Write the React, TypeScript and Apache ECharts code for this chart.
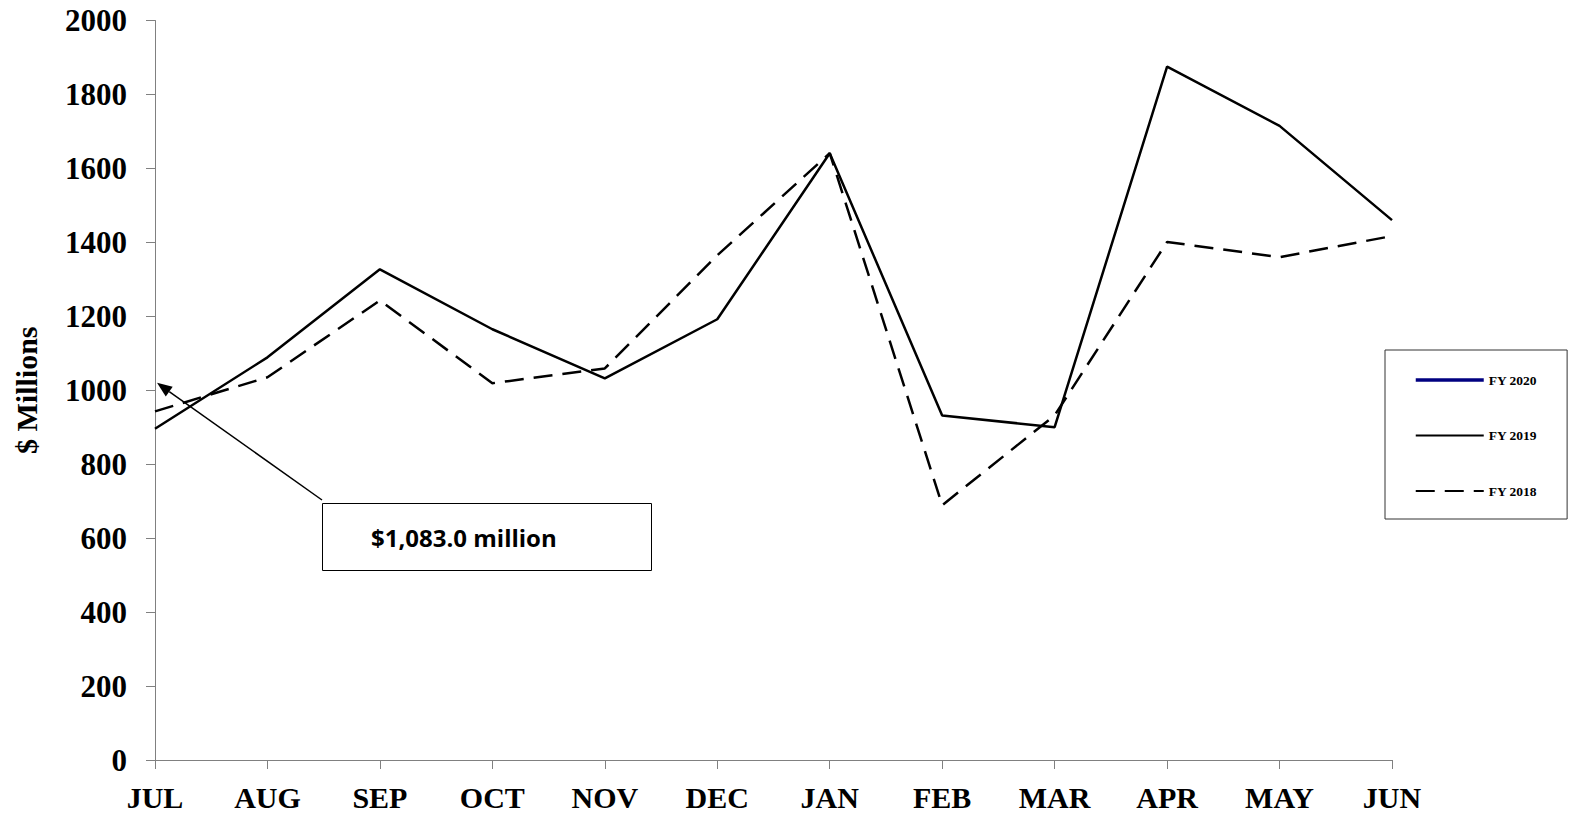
import React, { useEffect, useRef } from "react";
import * as echarts from "echarts";

const months = ["JUL", "AUG", "SEP", "OCT", "NOV", "DEC", "JAN", "FEB", "MAR", "APR", "MAY", "JUN"];
const fy2020: (number | null)[] = [1083, null, null, null, null, null, null, null, null, null, null, null];
const fy2019 = [896, 1089, 1327, 1165, 1032, 1192, 1641, 932, 900, 1875, 1715, 1460];
const fy2018 = [943, 1035, 1243, 1019, 1059, 1365, 1641, 689, 932, 1401, 1360, 1417];
const yTicks = { min: 0, max: 2000, interval: 200 };
const annotationText = "$1,083.0 million";
const arrowTarget: [string, number] = ["JUL", 1020];

const serif = "'Liberation Serif', 'Times New Roman', serif";

export default function App() {
  const ref = useRef<HTMLDivElement>(null);
  useEffect(() => {
    if (!ref.current) return;
    const chart = echarts.init(ref.current, null, { renderer: "svg" });
    const axisColor = "#808080";
    chart.setOption({
      animation: false,
      backgroundColor: "#fff",
      grid: { left: 155, right: 178, top: 20.5, bottom: 57, containLabel: false },
      legend: {
        orient: "vertical",
        left: 1385,
        top: 350,
        padding: [23, 30, 21, 29],
        itemGap: 41.5,
        itemWidth: 68,
        itemHeight: 14,
        borderColor: "#333",
        borderWidth: 1,
        itemStyle: { opacity: 0 },
        textStyle: { fontFamily: serif, fontWeight: "bold", fontSize: 13.5, color: "#000" },
        data: [
          { name: "FY 2020", lineStyle: { width: 3.5, color: "#000080" } },
          { name: "FY 2019", lineStyle: { width: 2, color: "#000" } },
          { name: "FY 2018", lineStyle: { width: 2, color: "#000", type: [19, 10] } },
        ],
      },
      xAxis: {
        type: "category",
        data: months,
        boundaryGap: false,
        axisLine: { lineStyle: { color: axisColor, width: 1 } },
        axisTick: { show: true, length: 9, inside: false, lineStyle: { color: axisColor }, interval: 0 },
        axisLabel: { fontFamily: serif, fontWeight: "bold", fontSize: 30, color: "#000", margin: 22, interval: 0 },
        splitLine: { show: false },
      },
      yAxis: {
        type: "value",
        min: yTicks.min,
        max: yTicks.max,
        interval: yTicks.interval,
        name: "$ Millions",
        nameLocation: "middle",
        nameRotate: 90,
        nameGap: 114,
        nameTextStyle: { fontFamily: serif, fontWeight: "bold", fontSize: 30, color: "#000" },
        axisLine: { show: true, lineStyle: { color: axisColor, width: 1 } },
        axisTick: { show: true, length: 9, lineStyle: { color: axisColor } },
        axisLabel: {
          fontFamily: serif,
          fontWeight: "bold",
          fontSize: 31,
          color: "#000",
          margin: 28,
          formatter: (v: number) => String(v),
        },
        splitLine: { show: false },
      },
      series: [
        {
          name: "FY 2020",
          type: "line",
          data: fy2020,
          symbol: "none",
          connectNulls: false,
          lineStyle: { color: "#000080", width: 4 },
          itemStyle: { color: "#000080" },
        },
        {
          name: "FY 2019",
          type: "line",
          data: fy2019,
          symbol: "none",
          lineStyle: { color: "#000", width: 2.5 },
          itemStyle: { color: "#000" },
        },
        {
          name: "FY 2018",
          type: "line",
          data: fy2018,
          symbol: "none",
          lineStyle: { color: "#000", width: 2.5, type: [19, 10] },
          itemStyle: { color: "#000" },
        },
      ],
    });

    const tip = chart.convertToPixel({ xAxisIndex: 0, yAxisIndex: 0 }, arrowTarget) as number[];
    const tx = tip[0] + 2;
    const ty = tip[1];
    const sx = 322;
    const sy = 500;
    const dx = tx - sx;
    const dy = ty - sy;
    const len = Math.sqrt(dx * dx + dy * dy);
    const ux = dx / len;
    const uy = dy / len;
    const headLen = 15;
    const headW = 6;
    const bx = tx - ux * headLen;
    const by = ty - uy * headLen;
    const px = -uy;
    const py = ux;

    chart.setOption({
      graphic: [
        {
          type: "line",
          shape: { x1: sx, y1: sy, x2: bx, y2: by },
          style: { stroke: "#000", lineWidth: 1.5 },
        },
        {
          type: "polygon",
          shape: {
            points: [
              [tx, ty],
              [bx + px * headW, by + py * headW],
              [bx - px * headW, by - py * headW],
            ],
          },
          style: { fill: "#000" },
        },
        {
          type: "rect",
          shape: { x: 322.5, y: 503.5, width: 329, height: 67 },
          style: { fill: "#fff", stroke: "#000", lineWidth: 1 },
        },
        {
          type: "text",
          x: 371,
          y: 537,
          style: {
            text: annotationText,
            fontFamily: "'Open Sans', 'Liberation Sans', sans-serif",
            fontWeight: "bold",
            fontSize: 24,
            fill: "#000",
            verticalAlign: "middle",
            align: "left",
          },
        },
      ],
    });

    return () => chart.dispose();
  }, []);
  return <div ref={ref} style={{ position: "fixed", left: 0, top: 0, width: 1570, height: 817 }} />;
}
